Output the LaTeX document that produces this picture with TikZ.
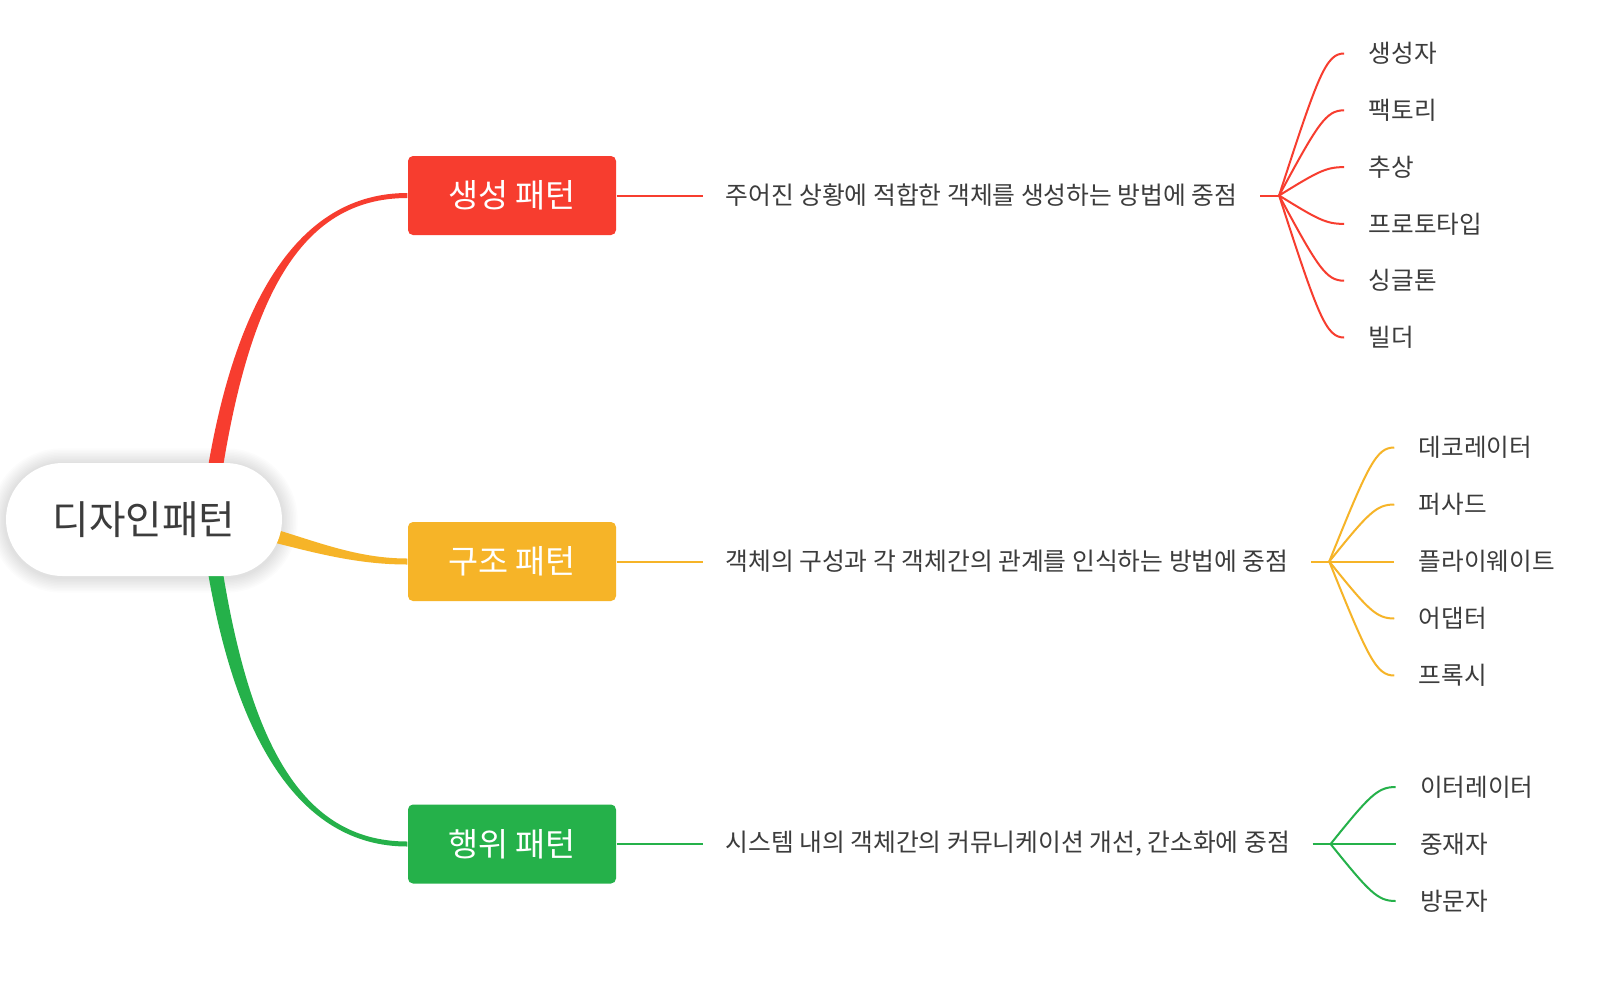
\documentclass[tikz,border=0pt]{standalone}
\usepackage{fontspec}
\setmainfont{Noto Sans CJK KR}
\usetikzlibrary{calc,positioning,backgrounds}
\definecolor{genred}{RGB}{247,61,47}
\definecolor{stryellow}{RGB}{246,180,40}
\definecolor{behgreen}{RGB}{37,177,74}
\definecolor{inkgray}{RGB}{60,60,60}
% thick-to-thin branch: colour, from, to, c1 offset, c2 offset, half width at start, at end
\newcommand{\taper}[7]{\fill[#1] ($(#2)+(#6)$) .. controls ($(#2)+(#4)+(#6)$) and ($(#3)+(#5)+(#7)$) .. ($(#3)+(#7)$)
  -- ($(#3)-(#7)$) .. controls ($(#3)+(#5)-(#7)$) and ($(#2)+(#4)-(#6)$) .. ($(#2)-(#6)$) -- cycle;}

\begin{document}
\begin{tikzpicture}[x=0.1mm,y=-0.1mm,
  catbox/.style={fill=#1,rounded corners=0.5mm,minimum width=20.8mm,minimum height=7.9mm,
    text=white,font=\fontsize{9.3}{11}\selectfont},
  desc/.style={inner xsep=2.2mm,inner ysep=1mm,text=inkgray,font=\fontsize{7.05}{8}\selectfont},
  leaf/.style={anchor=west,inner xsep=2.4mm,inner ysep=1mm,text=inkgray,font=\fontsize{7}{8}\selectfont},
  stem/.style={draw=#1,line width=0.2mm}]
\useasboundingbox (0,0) rectangle (1600,1000);

\node[fill=white,rounded corners=5.65mm,minimum width=27.6mm,minimum height=11.3mm,
  text=inkgray,font=\fontsize{11.3}{13}\selectfont] (root) at (144,519.5) {디자인패턴};

\node[catbox=genred] (gen) at (512,195.5) {생성 패턴};
\node[catbox=stryellow] (str) at (512,561.5) {구조 패턴};
\node[catbox=behgreen] (beh) at (512,844) {행위 패턴};

\node[desc,right=8.6mm of gen] (gendesc) {주어진 상황에 적합한 객체를 생성하는 방법에 중점};
\node[desc,right=8.6mm of str] (strdesc) {객체의 구성과 각 객체간의 관계를 인식하는 방법에 중점};
\node[desc,right=8.6mm of beh] (behdesc) {시스템 내의 객체간의 커뮤니케이션 개선, 간소화에 중점};

\coordinate (genjoint) at ([xshift=1.9mm]gendesc.east);
\coordinate (strjoint) at ([xshift=1.8mm]strdesc.east);
\coordinate (behjoint) at ([xshift=1.8mm]behdesc.east);

\draw[stem=genred] (gen) -- (gendesc) (gendesc) -- (genjoint);
\draw[stem=stryellow] (str) -- (strdesc) (strdesc) -- (strjoint);
\draw[stem=behgreen] (beh) -- (behdesc) (behdesc) -- (behjoint);

% leaves
\foreach \t [count=\i] in {생성자,팩토리,추상,프로토타입,싱글톤,빌더}{
  \pgfmathsetmacro{\dy}{(\i-3.5)*56.8}
  \node[leaf] (genleaf\i) at ($(genjoint)+(65,\dy)$) {\t};
  \draw[stem=genred] (genjoint) .. controls ($(genjoint)+(39,{0.85*\dy})$) and ($(genleaf\i.west)+(-18,0)$) .. (genleaf\i.west);
}
\foreach \t [count=\i] in {데코레이터,퍼사드,플라이웨이트,어댑터,프록시}{
  \pgfmathsetmacro{\dy}{(\i-3)*57}
  \node[leaf] (strleaf\i) at ($(strjoint)+(65,\dy)$) {\t};
  \draw[stem=stryellow] (strjoint) .. controls ($(strjoint)+(39,{0.85*\dy})$) and ($(strleaf\i.west)+(-18,0)$) .. (strleaf\i.west);
}
\foreach \t [count=\i] in {이터레이터,중재자,방문자}{
  \pgfmathsetmacro{\dy}{(\i-2)*57}
  \node[leaf] (behleaf\i) at ($(behjoint)+(65,\dy)$) {\t};
  \draw[stem=behgreen] (behjoint) .. controls ($(behjoint)+(39,{0.85*\dy})$) and ($(behleaf\i.west)+(-18,0)$) .. (behleaf\i.west);
}

\begin{pgfonlayer}{background}
\fill[white] (0,0) rectangle (1600,1000);
% soft halo round the root
\foreach \k in {1,...,10}
  \draw[black,opacity=0.01,line width=\k*0.3mm,rounded corners=5.65mm]
    ([yshift=-0.1mm]root.south west) rectangle ([yshift=-0.1mm]root.north east);
\coordinate (genfoot) at ([shift={(68,27)}]root.north);
\coordinate (strfoot) at ([shift={(96,7.5)}]root.center);
\coordinate (behfoot) at ([shift={(68,-26)}]root.south);
\taper{genred}{genfoot}{gen.west}{28,-190}{-108,0}{7.5,0}{0,2.5}
\taper{stryellow}{strfoot}{str.west}{60,14}{-60,0}{-1.6,6.8}{0,3}
\taper{behgreen}{behfoot}{beh.west}{28,188}{-108,0}{7.5,0}{0,-2.5}
\end{pgfonlayer}
\end{tikzpicture}
\end{document}
